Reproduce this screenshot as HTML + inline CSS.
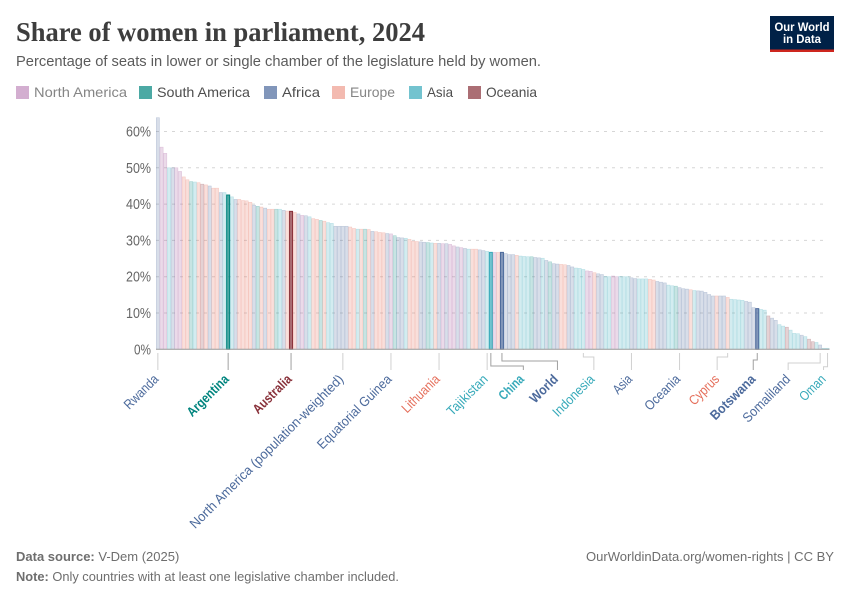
<!DOCTYPE html>
<html lang="en">
<head>
<meta charset="utf-8">
<title>Share of women in parliament, 2024</title>
<style>
html,body{margin:0;padding:0;background:#fff;width:850px;height:600px;overflow:hidden}
svg{display:block;font-family:"Liberation Sans",sans-serif}
</style>
</head>
<body>
<svg id="chart" width="850" height="600" viewBox="0 0 850 600" xmlns="http://www.w3.org/2000/svg">
  <text x="16" y="41" font-family="'Liberation Serif',serif" font-weight="700" font-size="27" fill="#3d3d3d" textLength="409" lengthAdjust="spacingAndGlyphs">Share of women in parliament, 2024</text>
  <text x="16" y="66" font-size="14.5" fill="#5b5b5b" textLength="525" lengthAdjust="spacingAndGlyphs">Percentage of seats in lower or single chamber of the legislature held by women.</text>

  <g>
    <rect x="770" y="16" width="64" height="36" fill="#002147"/>
    <rect x="770" y="49.5" width="64" height="2.5" fill="#ce261e"/>
    <text x="802" y="31" text-anchor="middle" font-size="12" font-weight="700" fill="#fff" textLength="55" lengthAdjust="spacingAndGlyphs">Our World</text>
    <text x="802" y="43" text-anchor="middle" font-size="12" font-weight="700" fill="#fff" textLength="38" lengthAdjust="spacingAndGlyphs">in Data</text>
  </g>

  <g>
    <g><rect x="16" y="86" width="13" height="13" fill="#A2559C" fill-opacity=".48"/><text x="34" y="97" font-size="14" fill="#858585" textLength="93" lengthAdjust="spacingAndGlyphs">North America</text></g>
    <g><rect x="139" y="86" width="13" height="13" fill="#00847E" fill-opacity=".7"/><text x="157" y="97" font-size="14" fill="#4e4e4e" textLength="93" lengthAdjust="spacingAndGlyphs">South America</text></g>
    <g><rect x="264" y="86" width="13" height="13" fill="#4C6A9C" fill-opacity=".7"/><text x="282" y="97" font-size="14" fill="#4e4e4e" textLength="38" lengthAdjust="spacingAndGlyphs">Africa</text></g>
    <g><rect x="332" y="86" width="13" height="13" fill="#E56E5A" fill-opacity=".48"/><text x="350" y="97" font-size="14" fill="#858585" textLength="45" lengthAdjust="spacingAndGlyphs">Europe</text></g>
    <g><rect x="409" y="86" width="13" height="13" fill="#38AABA" fill-opacity=".7"/><text x="427" y="97" font-size="14" fill="#4e4e4e" textLength="26" lengthAdjust="spacingAndGlyphs">Asia</text></g>
    <g><rect x="468" y="86" width="13" height="13" fill="#883039" fill-opacity=".7"/><text x="486" y="97" font-size="14" fill="#4e4e4e" textLength="51" lengthAdjust="spacingAndGlyphs">Oceania</text></g>
  </g>

  <g id="plot"></g>

  <text x="16" y="561" font-size="13" fill="#6e6e6e"><tspan font-weight="700">Data source:</tspan> V-Dem (2025)</text>
  <text x="834" y="561" text-anchor="end" font-size="13" fill="#6e6e6e" textLength="248" lengthAdjust="spacingAndGlyphs">OurWorldinData.org/women-rights | CC BY</text>
  <text x="16" y="581" font-size="13" fill="#6e6e6e" textLength="383" lengthAdjust="spacingAndGlyphs"><tspan font-weight="700">Note:</tspan> Only countries with at least one legislative chamber included.</text>
</svg>
<script>
const values = [
63.8,55.7,54,50,50,50,49,47.5,46.7,46.2,46.1,45.9,45.5,45.3,45,44.4,44.4,43.2,43.2,42.5,
42,41.3,41.3,41,40.9,40.5,39.7,39.4,39.2,38.9,38.6,38.6,38.6,38.6,38.3,38.1,38,37.7,37.3,36.9,
36.8,36.5,36,35.8,35.5,35.3,34.9,34.7,33.9,33.9,33.9,33.9,33.7,33.3,33.1,33.1,33.1,33,32.5,32.4,
32.2,32.1,31.9,31.8,31.3,30.8,30.7,30.6,30.3,29.8,29.7,29.6,29.5,29.4,29.3,29.2,29.2,29.1,29.1,28.9,
28.5,28.2,28,27.8,27.6,27.6,27.6,27.4,27.2,27,26.7,26.7,26.7,26.7,26.4,26.1,26.1,25.9,25.7,25.6,
25.5,25.5,25.3,25.2,25.1,24.5,24.1,23.6,23.5,23.4,23.3,23.1,22.7,22.4,22.3,22,21.6,21.5,21.1,20.8,
20.6,20.1,20,20.2,20,20.1,20,20,19.7,19.5,19.4,19.4,19.4,19.3,19.1,18.7,18.5,18.3,17.7,17.5,
17.4,17,16.7,16.6,16.4,16.2,16.1,16.05,15.7,15.1,14.7,14.7,14.7,14.7,14.3,13.8,13.7,13.6,13.5,13.2,
13,11.5,11.2,11,10.8,9.2,8.6,8,6.8,6.4,6.1,5.3,4.4,4.3,3.9,3.5,2.8,2.1,1.9,1.2,0.3,0.3
];
const regions = (
"Af NA NA As Af NA NA Eu Eu SA As Eu Oc Eu Af Eu Eu Af As SA " +
"As Af Eu Eu Eu Eu Af SA Eu Af Eu Eu SA As Af Eu Oc Eu Af NA " +
"Af As Eu Eu SA Eu As As Af Af Af Af Eu Eu As Eu SA Eu Af Eu " +
"Eu Eu Af NA SA Af Af As Eu Eu Eu Af Af SA As Eu Af NA Af NA " +
"NA Af NA Af As Eu Eu Af Af As As NA Eu Af Af Af Af Eu As As " +
"As SA Af Af As Af SA Af Af Eu Eu Af Af As As As NA NA Eu Af " +
"Af As As NA NA As As As Af Af As As As Eu Eu Af Af Af As As " +
"SA Af Af Af Eu As Af Af Af Af Af Eu Af Af Eu As As As As Af " +
"Af Af Af As As Oc Af Af As As Oc As As As Af As Oc Oc As Af As As"
).split(" ");
const yTicks = [0, 10, 20, 30, 40, 50, 60];
const labelNames = ["Rwanda","Argentina","Australia","North America (population-weighted)","Equatorial Guinea","Lithuania","Tajikistan","China","World","Indonesia","Asia","Oceania","Cyprus","Botswana","Somaliland","Oman"];
const labelBars = [0,19,36,50,63,76,89,90,93,115,128,141,154,162,179,181];
const labelRegions = ["Af","SA","Oc","Af","Af","Eu","As","As","Af","As","Af","Af","Eu","Af","Af","As"];
const highlighted = ["Argentina","Australia","China","World","Botswana"];
const highlightedBars = [19,36,90,93,162];

const NS = "http://www.w3.org/2000/svg";
const palette = {NA:"#A2559C",SA:"#00847E",Af:"#4C6A9C",Eu:"#E56E5A",As:"#38AABA",Oc:"#883039"};
const labelPalette = {SA:"#00847E",Af:"#4C6A9C",Eu:"#E56E5A",As:"#38AABA",Oc:"#883039"};
const plot = document.getElementById("plot");
const xLeft = 156, barStep = 3.7, yZero = 349.3, pxPerPoint = 3.63;
const x = i => xLeft + barStep * i;
const xc = i => x(i) + barStep / 2;
const y = v => yZero - v * pxPerPoint;
function mk(tag, attrs, parent) {
  const el = document.createElementNS(NS, tag);
  for (const k in attrs) el.setAttribute(k, attrs[k]);
  (parent || plot).appendChild(el);
  return el;
}
// Connector layout: where the leader line bends and where the label sits, relative to its bar
const connectorLayout = {
  "China":{bend:366,dx:32.5}, "World":{bend:361,dx:55.5}, "Indonesia":{bend:357,dx:10.5},
  "Cyprus":{bend:357,dx:-10.5}, "Botswana":{bend:360,dx:-4}, "Somaliland":{bend:363,dx:-32},
  "Oman":{bend:366.7,dx:-4}
};
// Horizontal squeeze that brings the substitute font to the original label widths
const labelFit = {
  "Rwanda":.89,"Argentina":.87,"Australia":.875,"North America (population-weighted)":1.0,
  "Equatorial Guinea":.95,"Lithuania":.9,"Tajikistan":.965,"China":.82,"World":.925,
  "Indonesia":.94,"Asia":.83,"Oceania":.91,"Cyprus":.89,"Botswana":.94,"Somaliland":.95,"Oman":.875
};

yTicks.forEach(t => {
  if (t > 0) {
    const g = mk("line", {x1:xLeft,x2:824,y1:y(t),y2:y(t),stroke:"#d6d6d6","stroke-width":1,"stroke-dasharray":"3,5"});
    
    
  }
  const l = mk("text", {x:151,y:y(t)+5,"text-anchor":"end","font-size":14.5,fill:"#666666",
    textLength:t === 0 ? 17 : 25,lengthAdjust:"spacingAndGlyphs"});
  
  
  l.textContent = t + "%";
});

values.forEach((v, i) => {
  const c = palette[regions[i]];
  const hi = highlightedBars.includes(i);
  const r = mk("rect", hi
    ? {x:x(i)+0.35,y:y(v),width:barStep-0.7,height:yZero-y(v),fill:c,"fill-opacity":0.7,stroke:c,"stroke-width":1}
    : {x:x(i)+0.25,y:y(v),width:barStep-0.5,height:yZero-y(v),fill:c,"fill-opacity":0.22,stroke:c,"stroke-opacity":0.3,"stroke-width":0.5});
  
  
});

const base = mk("line", {x1:xLeft,x2:829.5,y1:yZero,y2:yZero,stroke:"#999999","stroke-width":1});



labelNames.forEach((name, n) => {
  const bx = xc(labelBars[n]);
  const layout = connectorLayout[name] || {bend:0,dx:0};
  const isHi = highlighted.includes(name);
  const points = layout.dx === 0
    ? `${bx},353 ${bx},370`
    : `${bx},353 ${bx},${layout.bend} ${bx+layout.dx},${layout.bend} ${bx+layout.dx},370`;
  const line = mk("polyline", {points:points,fill:"none",stroke:isHi?"#a0a0a0":"#d0d0d0","stroke-width":1});
  
  
  const tx = bx + layout.dx + (layout.dx < 0 ? 3 : 1.5), ty = 380;
  const t = mk("text", {x:tx,y:ty,"text-anchor":"end","font-size":13.5,
    "font-weight":isHi?700:400,fill:labelPalette[labelRegions[n]],
    transform:`rotate(-45 ${tx} ${ty})`});
  
  
  t.textContent = name;
  t.setAttribute("textLength", (t.getComputedTextLength() * 13 / 13.5 * labelFit[name]).toFixed(1));
  t.setAttribute("lengthAdjust", "spacingAndGlyphs");
});
</script>
</body>
</html>
